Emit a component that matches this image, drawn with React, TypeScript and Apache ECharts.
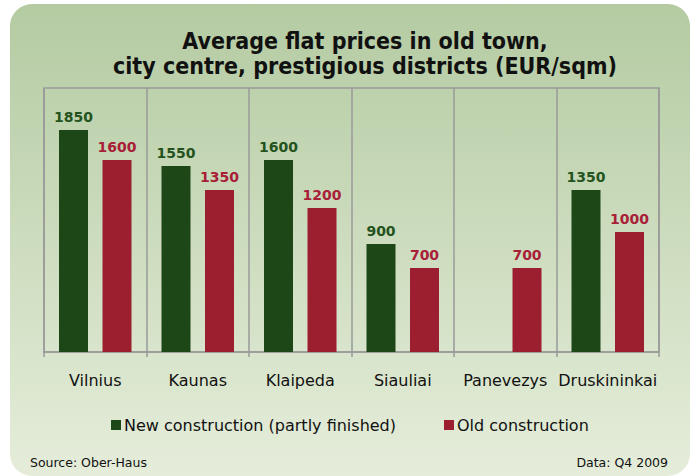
import React, { useEffect, useRef } from "react";
import * as echarts from "echarts";

const categories = ["Vilnius", "Kaunas", "Klaipeda", "Siauliai", "Panevezys", "Druskininkai"];
const newConstruction: (number | null)[] = [1850, 1550, 1600, 900, null, 1350];
const oldConstruction: number[] = [1600, 1350, 1200, 700, 700, 1000];
const seriesNames = ["New construction (partly finished)", "Old construction"];
const titleLines = ["Average flat prices in old town,", "city centre, prestigious districts (EUR/sqm)"];
const sourceText = "Source: Ober-Haus";
const dataText = "Data: Q4 2009";

const GREEN = "#1e4718";
const RED = "#9b1f2f";
const GREEN_LABEL = "#24531d";
const RED_LABEL = "#a82038";
const FONT = "'DejaVu Sans', Verdana, sans-serif";
const FONT_C = "'DejaVu Sans Condensed', 'DejaVu Sans', sans-serif";

export default function App() {
  const ref = useRef<HTMLDivElement>(null);
  useEffect(() => {
    if (!ref.current) return;
    const chart = echarts.init(ref.current, undefined, { renderer: "svg" });
    chart.setOption({
      animation: false,
      backgroundColor: "#ffffff",
      graphic: [
        {
          type: "rect",
          z: -10,
          shape: { x: 10, y: 4, width: 680, height: 472, r: 22 },
          style: {
            fill: new echarts.graphic.LinearGradient(0, 0, 0, 1, [
              { offset: 0, color: "#b4cba2" },
              { offset: 1, color: "#e5edda" },
            ]),
          },
        },
        {
          type: "text",
          x: 365,
          y: 28,
          style: {
            text: titleLines.join("\n"),
            fill: "#111",
            font: `bold 23px ${FONT_C}`,
            align: "center",
            verticalAlign: "top",
            lineHeight: 25,
          },
        },
        {
          type: "text",
          x: 30,
          y: 462,
          style: { text: sourceText, fill: "#111", font: `12.5px ${FONT}`, align: "left", verticalAlign: "middle" },
        },
        {
          type: "text",
          x: 668,
          y: 462,
          style: { text: dataText, fill: "#111", font: `12.5px ${FONT}`, align: "right", verticalAlign: "middle" },
        },
      ],
      grid: { left: 44, right: 37, top: 88, bottom: 124, show: true, borderColor: "#9a9a9a", borderWidth: 1.5, backgroundColor: "transparent" },
      legend: {
        data: seriesNames,
        left: 106,
        top: 412,
        itemWidth: 10,
        itemHeight: 10,
        itemGap: 48,
        icon: "rect",
        textStyle: { fontFamily: FONT, fontSize: 16, color: "#111", padding: [0, 0, 0, -2] },
      },
      xAxis: {
        type: "category",
        data: categories,
        axisLine: { lineStyle: { color: "#9a9a9a", width: 1.5 } },
        axisTick: { show: true, interval: 0, length: 5, lineStyle: { color: "#9a9a9a", width: 1.5 } },
        splitLine: { show: true, interval: 0, lineStyle: { color: "#9a9a9a", width: 1.5 } },
        axisLabel: { interval: 0, fontFamily: FONT, fontSize: 16, color: "#111", margin: 20 },
      },
      yAxis: { type: "value", min: 0, max: 2200, show: false, splitLine: { show: false } },
      series: [
        {
          name: seriesNames[0],
          type: "bar",
          data: newConstruction,
          barWidth: 29,
          barGap: "50%",
          itemStyle: { color: GREEN },
          label: { show: true, position: "top", distance: 6, color: GREEN_LABEL, fontFamily: FONT, fontWeight: "bold", fontSize: 14 },
        },
        {
          name: seriesNames[1],
          type: "bar",
          data: oldConstruction,
          barWidth: 29,
          barGap: "50%",
          itemStyle: { color: RED },
          label: { show: true, position: "top", distance: 6, color: RED_LABEL, fontFamily: FONT, fontWeight: "bold", fontSize: 14 },
        },
      ],
    });
    return () => chart.dispose();
  }, []);
  return <div ref={ref} style={{ position: "fixed", left: 0, top: 0, width: 696, height: 476 }} />;
}
